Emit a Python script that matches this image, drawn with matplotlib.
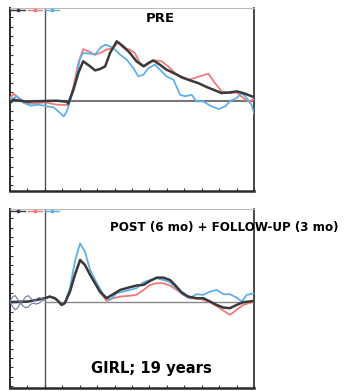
import matplotlib
matplotlib.use("Agg")
import matplotlib.pyplot as plt
import numpy as np

# ---------------- data ----------------
# PRE panel
pre_black_x = [-100, -90, -71, -52, -33, 0, 34, 63, 67, 82, 96, 110, 130, 144, 158, 173, 187, 206, 225, 244, 263, 283, 297, 311, 330, 349, 369, 392, 416, 440, 464, 488, 507, 531, 550, 569, 589, 600]
pre_black_y = [-0.18, 0.18, 0.07, -0.04, 0.0, 0.04, 0.07, -0.04, -0.25, 1.25, 3.04, 4.29, 3.75, 3.32, 3.46, 3.75, 5.18, 6.43, 5.89, 5.18, 4.29, 3.75, 4.11, 4.39, 3.93, 3.39, 3.04, 2.61, 2.25, 1.96, 1.54, 1.18, 0.89, 0.96, 1.07, 0.89, 0.61, 0.46]

pre_red_x = [-100, -90, -71, -52, -33, 0, 34, 63, 67, 82, 96, 110, 125, 144, 158, 177, 196, 211, 225, 244, 258, 273, 287, 301, 316, 335, 354, 373, 392, 411, 430, 450, 469, 488, 507, 531, 550, 569, 583, 600]
pre_red_y = [0.36, 0.82, 0.25, -0.18, -0.25, -0.1, -0.36, -0.39, -0.46, 1.61, 4.11, 5.6, 5.36, 5.0, 5.18, 5.54, 5.71, 6.32, 5.71, 5.54, 5.18, 4.11, 3.75, 4.11, 4.39, 4.29, 3.75, 3.04, 2.5, 2.32, 2.5, 2.75, 2.96, 1.96, 1.07, 0.89, 0.96, 0.36, 0.0, 0.18]

pre_blue_x = [-100, -80, -60, -40, -20, 0, 5, 24, 44, 54, 63, 72, 87, 101, 110, 130, 144, 158, 173, 187, 201, 216, 235, 254, 268, 283, 297, 316, 330, 349, 369, 388, 402, 421, 435, 455, 474, 498, 517, 531, 550, 565, 579, 593, 600]
pre_blue_y = [0.18, 0.54, -0.18, -0.46, -0.36, -0.46, -0.54, -0.61, -1.25, -1.61, -1.07, 0.0, 1.96, 4.64, 5.18, 5.11, 5.0, 5.71, 6.07, 5.89, 5.54, 5.0, 4.46, 3.57, 2.68, 2.86, 3.57, 3.93, 3.39, 2.68, 2.32, 0.71, 0.54, 0.71, 0.0, 0.0, -0.46, -0.82, -0.54, 0.0, 0.36, 0.89, 0.36, -0.36, -1.25]

# POST + FOLLOW-UP panel
post_black_x = [-100, -50, 0, 14, 29, 38, 48, 57, 72, 86, 101, 115, 130, 144, 158, 177, 196, 216, 240, 263, 283, 302, 321, 340, 359, 373, 392, 411, 435, 455, 474, 493, 512, 531, 550, 569, 600]
post_black_y = [0.0, 0.05, 0.43, 0.61, 0.43, 0.14, -0.29, -0.11, 1.14, 2.93, 4.54, 4.0, 2.93, 2.04, 1.14, 0.43, 0.86, 1.32, 1.57, 1.79, 1.86, 2.29, 2.64, 2.64, 2.39, 1.86, 1.07, 0.61, 0.43, 0.43, 0.07, -0.29, -0.57, -0.64, -0.29, 0.0, 0.14]

post_red_x = [-100, -50, 0, 14, 29, 38, 48, 57, 72, 86, 101, 115, 130, 144, 158, 177, 196, 216, 240, 263, 283, 302, 321, 340, 359, 378, 397, 416, 445, 474, 502, 531, 550, 569, 600]
post_red_y = [0.05, 0.1, 0.4, 0.6, 0.4, 0.1, -0.3, -0.1, 1.1, 2.8, 4.43, 4.0, 2.9, 2.0, 1.1, 0.14, 0.43, 0.61, 0.68, 0.79, 1.32, 1.86, 2.04, 2.04, 1.79, 1.32, 0.79, 0.43, 0.36, 0.0, -0.64, -1.36, -0.82, -0.29, 0.07]

post_blue_x = [-100, -50, 0, 14, 29, 38, 48, 57, 72, 86, 101, 115, 130, 149, 168, 187, 206, 225, 244, 263, 283, 302, 321, 340, 359, 378, 397, 416, 435, 455, 474, 493, 512, 531, 550, 565, 579, 600]
post_blue_y = [0.05, 0.1, 0.4, 0.6, 0.4, 0.1, -0.3, -0.1, 1.5, 4.36, 6.32, 5.43, 3.46, 2.04, 0.79, 0.25, 0.96, 1.14, 1.32, 1.5, 2.14, 2.39, 2.57, 2.39, 2.14, 1.5, 0.79, 0.43, 0.86, 0.79, 1.14, 1.32, 0.86, 0.86, 0.5, 0.07, 0.79, 0.96]

# scribbled loops in the pre-stimulus part of the lower panel
loop_x = [-100, -92, -85, -78, -70, -62, -55, -47, -40, -32, -25, -17, -10, 0]
loop_top_y = [0.1, 0.6, 0.7, 0.3, -0.1, 0.2, 0.6, 0.7, 0.4, 0.1, 0.3, 0.5, 0.4, 0.3]
loop_bot_y = [0.0, -0.5, -0.8, -0.6, -0.1, -0.4, -0.6, -0.5, -0.2, -0.1, -0.2, -0.1, 0.1, 0.3]

titles = ["PRE", "POST (6 mo) + FOLLOW-UP (3 mo)"]
footer = "GIRL; 19 years"

BLACK = "#3a3a3a"
RED = "#f07a7a"
BLUE = "#5fb0ea"

fig = plt.figure(figsize=(3.44, 3.91), dpi=100)
ax1 = fig.add_axes([10/344, 1-191/391, 244/344, 183/391])
ax2 = fig.add_axes([10/344, 1-388/391, 244/344, 179/391])


def style(ax, ylo, yhi):
    ax.set_xlim(-100, 600)
    ax.set_ylim(ylo, yhi)
    for s in ["left", "bottom", "right"]:
        ax.spines[s].set_color("#2a2a2a")
    ax.spines["left"].set_linewidth(1.4)
    ax.spines["bottom"].set_linewidth(1.8)
    ax.spines["right"].set_linewidth(1.2)
    ax.spines["top"].set_color("#bbbbbb")
    ax.spines["top"].set_linewidth(0.8)
    ax.set_xticks(np.arange(-100, 601, 50))
    ax.set_yticks(np.arange(np.ceil(ylo), yhi + 0.01, 1))
    ax.tick_params(direction="in", length=2.5, width=0.8, colors="#333333",
                   labelleft=False, labelbottom=False)
    ax.axvline(0, color="#555555", lw=1.0, zorder=1)


style(ax1, -9.6, 10)
style(ax2, -9.2, 10)

ax1.axhline(0, color="#777777", lw=1.5, zorder=1)
ax2.plot([0, 600], [0, 0], color="#888888", lw=1.0, zorder=1)

ax1.plot(pre_red_x, pre_red_y, color=RED, lw=1.3, zorder=3)
ax1.plot(pre_blue_x, pre_blue_y, color=BLUE, lw=1.3, zorder=3)
ax1.plot(pre_black_x, pre_black_y, color=BLACK, lw=1.8, zorder=4)

ax2.plot(post_red_x, post_red_y, color=RED, lw=1.3, zorder=3)
ax2.plot(post_blue_x, post_blue_y, color=BLUE, lw=1.3, zorder=3)
ax2.plot(post_black_x, post_black_y, color=BLACK, lw=1.8, zorder=4)
ax2.plot(loop_x, loop_top_y, color="#6a7aa0", lw=0.8, zorder=5)
ax2.plot(loop_x, loop_bot_y, color="#6a7aa0", lw=0.8, zorder=5)

# tiny legend strips
for ax in (ax1, ax2):
    hs = [plt.Line2D([], [], color=c, lw=1.0, marker="s", ms=1.6, markevery=None) for c in (BLACK, RED, BLUE)]
    ax.legend(hs, ["", "", ""], ncol=3, loc="upper left", frameon=False,
              handlelength=2.6, handletextpad=0.0, columnspacing=0.5,
              borderaxespad=0.05, borderpad=0.0, fontsize=4)

fig.text(160/344, 1-18/391, titles[0], ha="center", va="center",
         fontsize=9.5, fontweight="bold", family="DejaVu Sans")
fig.text(224/344, 1-227/391, titles[1], ha="center", va="center",
         fontsize=8.6, fontweight="bold", family="DejaVu Sans")
fig.text(151/344, 1-369/391, footer, ha="center", va="center",
         fontsize=10.6, fontweight="bold", family="DejaVu Sans")

fig.savefig("out.png", dpi=100)
